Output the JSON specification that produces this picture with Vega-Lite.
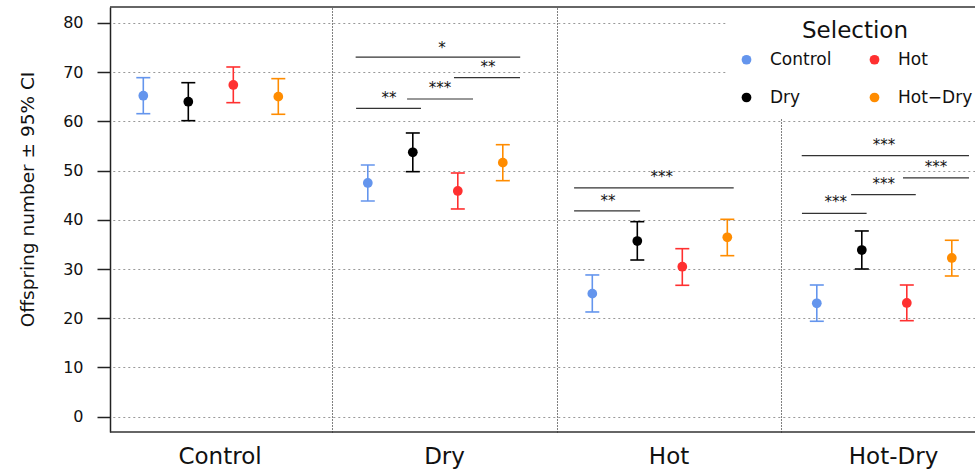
{
  "$schema": "https://vega.github.io/schema/vega-lite/v6.json",
  "width": 865,
  "height": 425,
  "autosize": {"type": "none"},
  "padding": {"left": 110, "top": 7, "right": 0, "bottom": 41},
  "background": "white",
  "config": {
    "view": {"stroke": null},
    "font": "DejaVu Sans",
    "axisY": {
      "grid": true, "gridColor": "#999999", "gridDash": [2, 3], "gridWidth": 1.2,
      "domain": true, "domainColor": "#222222", "domainWidth": 1.5,
      "ticks": true, "tickSize": 13, "tickColor": "#222222", "tickWidth": 1.5,
      "labelFontSize": 16, "labelColor": "#111111", "labelPadding": 14,
      "titleFontSize": 18.5, "titleFontWeight": "normal", "titleColor": "#111111",
      "titleX": -77, "titleY": 192, "titleAngle": -90, "titleAlign": "center", "titleBaseline": "alphabetic"
    }
  },
  "datasets": {
    "stats": [
      {"group": "Control", "selection": "Control", "mean": 65.23, "lo": 61.57, "hi": 68.89},
      {"group": "Control", "selection": "Dry", "mean": 64.01, "lo": 60.15, "hi": 67.87},
      {"group": "Control", "selection": "Hot", "mean": 67.41, "lo": 63.81, "hi": 71.06},
      {"group": "Control", "selection": "Hot−Dry", "mean": 65.03, "lo": 61.45, "hi": 68.69},
      {"group": "Dry", "selection": "Control", "mean": 47.49, "lo": 43.83, "hi": 51.15},
      {"group": "Dry", "selection": "Dry", "mean": 53.73, "lo": 49.79, "hi": 57.65},
      {"group": "Dry", "selection": "Hot", "mean": 45.87, "lo": 42.21, "hi": 49.52},
      {"group": "Dry", "selection": "Hot−Dry", "mean": 51.62, "lo": 47.96, "hi": 55.27},
      {"group": "Hot", "selection": "Control", "mean": 25.0, "lo": 21.28, "hi": 28.8},
      {"group": "Hot", "selection": "Dry", "mean": 35.7, "lo": 31.84, "hi": 39.63},
      {"group": "Hot", "selection": "Hot", "mean": 30.48, "lo": 26.7, "hi": 34.14},
      {"group": "Hot", "selection": "Hot−Dry", "mean": 36.46, "lo": 32.72, "hi": 40.11},
      {"group": "Hot-Dry", "selection": "Control", "mean": 23.04, "lo": 19.39, "hi": 26.76},
      {"group": "Hot-Dry", "selection": "Dry", "mean": 33.87, "lo": 30.01, "hi": 37.74},
      {"group": "Hot-Dry", "selection": "Hot", "mean": 23.11, "lo": 19.51, "hi": 26.76},
      {"group": "Hot-Dry", "selection": "Hot−Dry", "mean": 32.25, "lo": 28.59, "hi": 35.85}
    ],
    "brackets": [
      {"from": 1.104, "to": 1.837, "level": 73.08, "stars": "*", "textX": 1.489, "textY": 75.53},
      {"from": 1.542, "to": 1.836, "level": 68.89, "stars": "**", "textX": 1.694, "textY": 71.67},
      {"from": 1.333, "to": 1.627, "level": 64.56, "stars": "***", "textX": 1.48, "textY": 67.41},
      {"from": 1.106, "to": 1.395, "level": 62.67, "stars": "**", "textX": 1.253, "textY": 65.37},
      {"from": 2.077, "to": 2.788, "level": 46.48, "stars": "***", "textX": 2.468, "textY": 49.32},
      {"from": 2.077, "to": 2.371, "level": 41.81, "stars": "**", "textX": 2.228, "textY": 44.5},
      {"from": 3.091, "to": 3.836, "level": 53.04, "stars": "***", "textX": 3.457, "textY": 55.76},
      {"from": 3.542, "to": 3.836, "level": 48.51, "stars": "***", "textX": 3.689, "textY": 51.29},
      {"from": 3.311, "to": 3.599, "level": 45.11, "stars": "***", "textX": 3.456, "textY": 47.9},
      {"from": 3.092, "to": 3.38, "level": 41.33, "stars": "***", "textX": 3.242, "textY": 44.18}
    ]
  },
  "layer": [
    {
      "data": {"name": "stats"},
      "encoding": {
        "x": {
          "field": "group", "type": "nominal",
          "sort": ["Control", "Dry", "Hot", "Hot-Dry"],
          "scale": {"type": "band", "range": [-2.2, 895.8], "paddingInner": 0, "paddingOuter": 0},
          "axis": {"title": null, "domain": false, "ticks": false, "grid": false, "labelAngle": 0, "labelFontSize": 23, "labelPadding": 13, "labelColor": "#111111"}
        },
        "xOffset": {
          "field": "selection", "type": "nominal",
          "sort": ["Control", "Dry", "Hot", "Hot−Dry"],
          "scale": {"type": "point", "range": [35.5, 170.5], "padding": 0}
        },
        "color": {
          "field": "selection", "type": "nominal",
          "scale": {"domain": ["Control", "Dry", "Hot", "Hot−Dry"], "range": ["#6495ED", "#000000", "#FF3030", "#FF8C00"]},
          "legend": {
            "orient": "none", "legendX": 616, "legendY": 1,
            "columns": 2, "title": "Selection",
            "titleFontSize": 23, "titleFontWeight": "normal", "titleAnchor": "middle", "titleColor": "#111111", "titlePadding": 8,
            "labelFontSize": 17, "labelColor": "#111111", "labelOffset": 15,
            "symbolSize": 95, "symbolType": "circle", "symbolStrokeWidth": 0, "symbolOpacity": 1,
            "columnPadding": 34, "rowPadding": 20,
            "fillColor": "white", "padding": 12
          }
        }
      },
      "layer": [
        {
          "mark": {"type": "point", "filled": true, "opacity": 1, "size": 95, "shape": "circle"},
          "encoding": {
            "y": {
              "field": "mean", "type": "quantitative", "title": "Offspring number ± 95% CI",
              "scale": {"domain": [-3.11, 83.25], "nice": false, "zero": false},
              "axis": {"values": [0, 10, 20, 30, 40, 50, 60, 70, 80]}
            }
          }
        },
        {
          "mark": {"type": "rule", "strokeWidth": 1.6, "opacity": 1},
          "encoding": {
            "y": {"field": "lo", "type": "quantitative", "title": "Offspring number ± 95% CI"},
            "y2": {"field": "hi"}
          }
        },
        {
          "mark": {"type": "tick", "size": 14, "thickness": 1.6, "orient": "horizontal", "opacity": 1},
          "encoding": {"y": {"field": "lo", "type": "quantitative", "title": "Offspring number ± 95% CI"}}
        },
        {
          "mark": {"type": "tick", "size": 14, "thickness": 1.6, "orient": "horizontal", "opacity": 1},
          "encoding": {"y": {"field": "hi", "type": "quantitative", "title": "Offspring number ± 95% CI"}}
        }
      ]
    },
    {
      "data": {"name": "brackets"},
      "encoding": {
        "x": {
          "field": "from", "type": "quantitative",
          "scale": {"domain": [0.0098, 3.8628], "nice": false, "zero": false},
          "axis": {"orient": "top", "title": null, "values": [1, 2, 3], "grid": true, "gridColor": "#000000", "gridDash": [1, 2], "gridWidth": 1, "domain": false, "ticks": false, "labels": false}
        }
      },
      "layer": [
        {
          "mark": {"type": "rule", "color": "#333333", "strokeWidth": 1.2},
          "encoding": {
            "x2": {"field": "to"},
            "y": {"field": "level", "type": "quantitative", "title": "Offspring number ± 95% CI"}
          }
        },
        {
          "mark": {"type": "text", "fontSize": 15, "color": "#111111", "baseline": "middle", "align": "center", "dy": 3},
          "encoding": {
            "x": {"field": "textX", "type": "quantitative"},
            "y": {"field": "textY", "type": "quantitative", "title": "Offspring number ± 95% CI"},
            "text": {"field": "stars"}
          }
        }
      ]
    },
    {
      "data": {"values": [{"edge": "top", "v": 83.25}, {"edge": "bottom", "v": -3.11}]},
      "mark": {"type": "rule", "color": "#333333", "strokeWidth": 1.5},
      "encoding": {"y": {"field": "v", "type": "quantitative", "title": "Offspring number ± 95% CI"}}
    }
  ],
  "resolve": {"scale": {"x": "independent", "xOffset": "independent"}}
}
